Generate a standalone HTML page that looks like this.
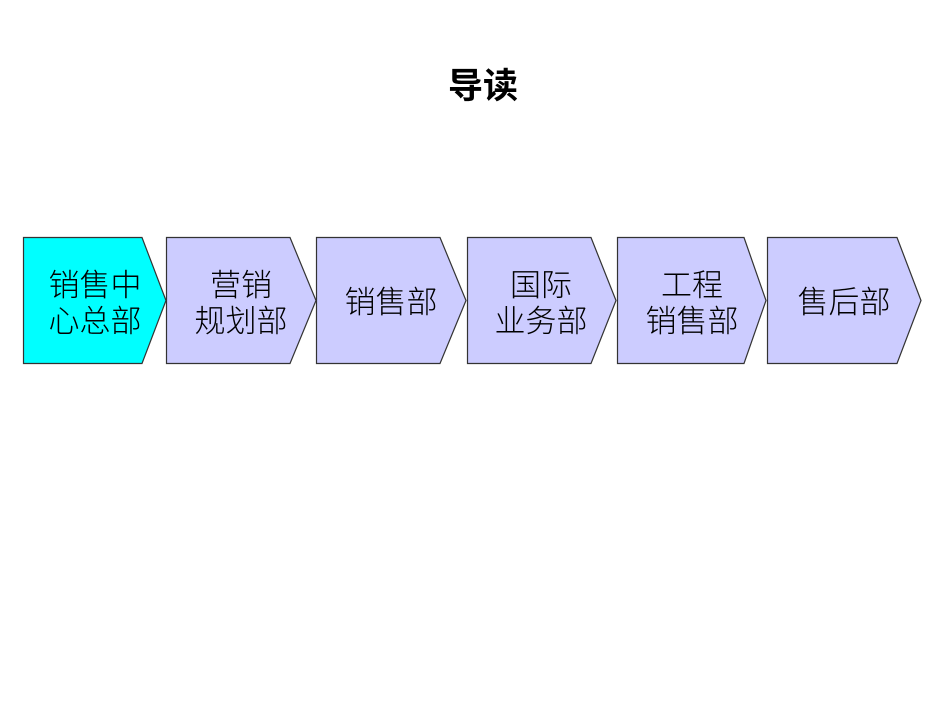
<!DOCTYPE html>
<html><head><meta charset="utf-8"><style>
html,body{margin:0;padding:0;background:#fff;width:950px;height:713px;overflow:hidden}
svg text{font-family:"Liberation Sans","Noto Sans CJK SC",sans-serif}
</style></head><body>
<svg width="950" height="713" viewBox="0 0 950 713" xmlns="http://www.w3.org/2000/svg">
<text x="483" y="98" font-size="35" font-weight="bold" text-anchor="middle" fill="#000" style="font-family:'Noto Sans CJK SC',sans-serif">导读</text>
<g stroke="#333" stroke-width="1.2">
<polygon points="23.5,237.5 142,237.5 166,300.5 142,363.5 23.5,363.5" fill="#00ffff"/>
<polygon points="166.5,237.5 290,237.5 316,300.5 290,363.5 166.5,363.5" fill="#ccccff"/>
<polygon points="316.5,237.5 440,237.5 466,300.5 440,363.5 316.5,363.5" fill="#ccccff"/>
<polygon points="467.5,237.5 591,237.5 616,300.5 591,363.5 467.5,363.5" fill="#ccccff"/>
<polygon points="617.5,237.5 744,237.5 766,300.5 744,363.5 617.5,363.5" fill="#ccccff"/>
<polygon points="767.5,237.5 897,237.5 921,300.5 897,363.5 767.5,363.5" fill="#ccccff"/>
</g>
<g font-size="31" text-anchor="middle" fill="#000" font-weight="300">
<text x="95" y="296">销售中</text><text x="95" y="332">心总部</text>
<text x="241" y="296">营销</text><text x="241" y="332">规划部</text>
<text x="391" y="313">销售部</text>
<text x="541" y="296">国际</text><text x="541" y="332">业务部</text>
<text x="692" y="296">工程</text><text x="692" y="332">销售部</text>
<text x="844" y="313">售后部</text>
</g>
</svg>
</body></html>
